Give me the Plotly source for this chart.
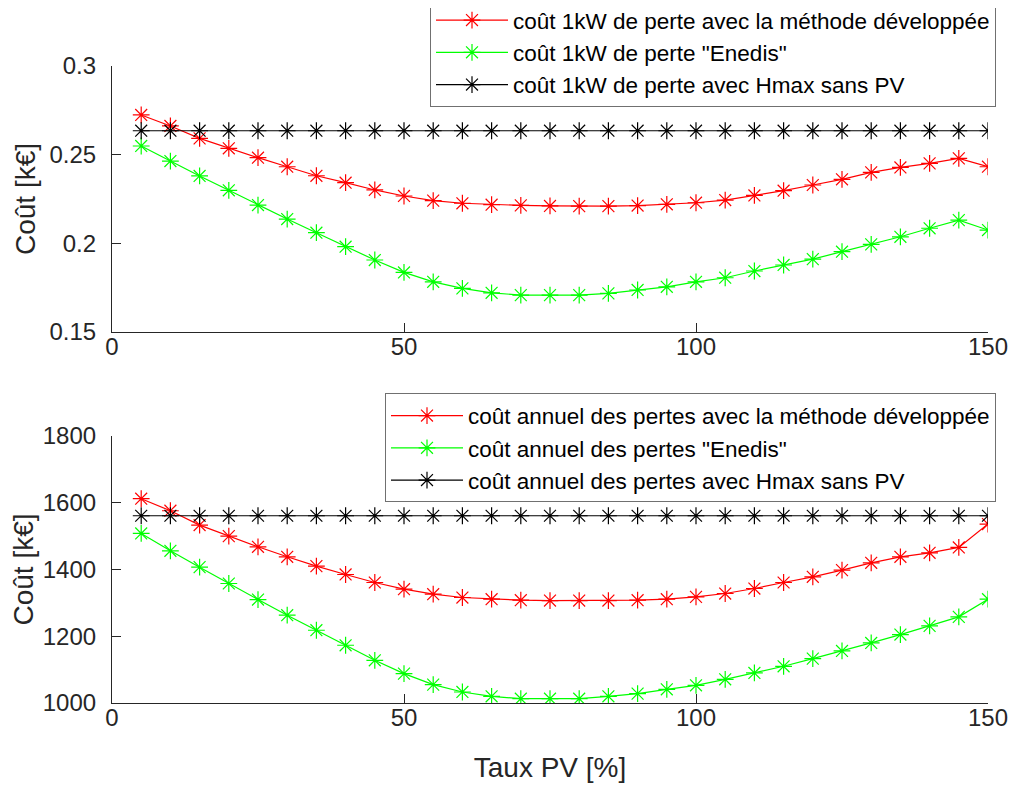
import plotly.graph_objects as go

taux_pv = [5, 10, 15, 20, 25, 30, 35, 40, 45, 50, 55, 60, 65, 70, 75,
           80, 85, 90, 95, 100, 105, 110, 115, 120, 125, 130, 135, 140, 145, 150]

cout_kw_methode = [0.2724, 0.2662, 0.2592, 0.2536, 0.2483, 0.2432, 0.2381, 0.2342, 0.2301, 0.2267,
                   0.2241, 0.2226, 0.2218, 0.2214, 0.2211, 0.2210, 0.2210, 0.2213, 0.2220, 0.2229,
                   0.2244, 0.2270, 0.2297, 0.2329, 0.2361, 0.2400, 0.2428, 0.2451, 0.2479, 0.2432]
cout_kw_enedis = [0.2549, 0.2464, 0.2380, 0.2299, 0.2216, 0.2137, 0.2060, 0.1981, 0.1906, 0.1836,
                  0.1783, 0.1746, 0.1721, 0.1708, 0.1708, 0.1708, 0.1718, 0.1737, 0.1755, 0.1783,
                  0.1806, 0.1844, 0.1878, 0.1911, 0.1953, 0.1994, 0.2037, 0.2085, 0.2131, 0.2075]
cout_kw_hmax = [0.2635] * 30

cout_an_methode = [1612, 1576, 1533, 1500, 1468, 1438, 1410, 1385, 1361, 1341,
                   1326, 1316, 1311, 1308, 1307, 1307, 1307, 1308, 1311, 1318,
                   1328, 1343, 1361, 1378, 1398, 1420, 1438, 1450, 1466, 1536]
cout_an_enedis = [1508, 1456, 1407, 1358, 1310, 1263, 1218, 1173, 1128, 1088,
                  1055, 1033, 1020, 1013, 1013, 1013, 1020, 1028, 1041, 1053,
                  1071, 1090, 1110, 1133, 1156, 1180, 1205, 1231, 1258, 1311]
cout_an_hmax = [1561] * 30

x_ticks = [0, 50, 100, 150]
y_ticks_haut = [0.15, 0.2, 0.25, 0.3]
y_ticktext_haut = ["0.15", "0.2", "0.25", "0.3"]
y_ticks_bas = [1000, 1200, 1400, 1600, 1800]

noms_haut = ["coût 1kW de perte avec la méthode développée",
             "coût 1kW de perte \"Enedis\"",
             "coût 1kW de perte avec Hmax sans PV"]
noms_bas = ["coût annuel des pertes avec la méthode développée",
            "coût annuel des pertes \"Enedis\"",
            "coût annuel des pertes avec Hmax sans PV"]
couleurs = ["#FF0000", "#00FF00", "#000000"]

FONT = "Liberation Sans, Arial, sans-serif"
AXC = "#262626"

fig = go.Figure()

series_haut = [cout_kw_methode, cout_kw_enedis, cout_kw_hmax]
series_bas = [cout_an_methode, cout_an_enedis, cout_an_hmax]

for ys, nom, c in zip(series_haut, noms_haut, couleurs):
    fig.add_trace(go.Scatter(
        x=taux_pv, y=ys, name=nom, mode="lines+markers",
        line=dict(color=c, width=1.2),
        marker=dict(symbol="asterisk-open", size=14, color=c, line=dict(color=c, width=1.2)),
        xaxis="x", yaxis="y", legend="legend"))

for ys, nom, c in zip(series_bas, noms_bas, couleurs):
    fig.add_trace(go.Scatter(
        x=taux_pv, y=ys, name=nom, mode="lines+markers",
        line=dict(color=c, width=1.2),
        marker=dict(symbol="asterisk-open", size=14, color=c, line=dict(color=c, width=1.2)),
        xaxis="x2", yaxis="y2", legend="legend2"))

axis_common = dict(showline=True, linecolor=AXC, linewidth=1.2, ticks="inside", ticklen=9,
                   tickcolor=AXC, tickwidth=1.2, showgrid=False, zeroline=False,
                   tickfont=dict(family=FONT, size=24, color=AXC), mirror=False,
                   automargin=False)
title_font = dict(family=FONT, size=28, color=AXC)

fig.update_layout(
    width=1036, height=787,
    paper_bgcolor="white", plot_bgcolor="white",
    margin=dict(l=104, r=56, t=58, b=92, autoexpand=False),
    font=dict(family=FONT, color=AXC),
    xaxis=dict(domain=[0, 1], anchor="y", range=[0, 150], tickvals=x_ticks,
               ticklabelstandoff=-7, **axis_common),
    yaxis=dict(domain=[0.5824, 1], anchor="x", range=[0.15, 0.3], tickvals=y_ticks_haut,
               ticktext=y_ticktext_haut, ticklabelstandoff=10,
               title=dict(text="Coût [k€]", font=title_font, standoff=5),
               **axis_common),
    xaxis2=dict(domain=[0, 1], anchor="y2", range=[0, 150], tickvals=x_ticks,
                ticklabelstandoff=-7,
                title=dict(text="Taux PV [%]", font=title_font, standoff=27),
                **axis_common),
    yaxis2=dict(domain=[0, 0.4192], anchor="x2", range=[1000, 1800], tickvals=y_ticks_bas,
                ticklabelstandoff=10,
                title=dict(text="Coût [k€]", font=title_font, standoff=5),
                **axis_common),
    legend=dict(x=(430 - 112) / 876, y=0.9357, xanchor="left", yanchor="bottom", bgcolor="white",
                bordercolor="#707070", borderwidth=1, itemwidth=72, entrywidth=560,
                font=dict(family=FONT, size=22.5, color="#000000")),
    legend2=dict(x=(385 - 112) / 876, y=0.486, xanchor="left", yanchor="top", bgcolor="white",
                 bordercolor="#707070", borderwidth=1, itemwidth=72, entrywidth=610,
                 font=dict(family=FONT, size=22.5, color="#000000")),
    showlegend=True,
)

fig.write_html("out.html")
